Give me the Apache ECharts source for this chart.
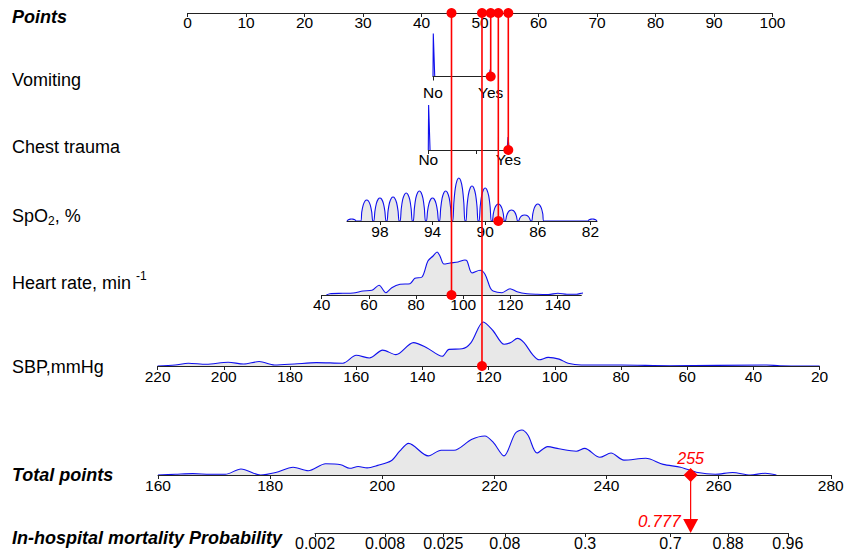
<!DOCTYPE html>
<html>
<head>
<meta charset="utf-8">
<script src="https://cdn.jsdelivr.net/npm/echarts@6/dist/echarts.min.js"></script>
<style>
html, body { margin: 0; padding: 0; background: #fff; }
#main { width: 844px; height: 552px; }
</style>
</head>
<body>
<div id="main"></div>
<script>
var FONT = '"Liberation Sans", Arial, sans-serif';

// ---- data ----
var rowTitles = ['Points', 'Vomiting', 'Chest trauma', 'SpO2, %', 'Heart rate, min -1', 'SBP,mmHg', 'Total points', 'In-hospital mortality Probability'];
var yesNo = ['No', 'Yes'];
var spo2Ticks = [98, 94, 90, 86, 82];
var hrTicks = [40, 60, 80, 100, 120, 140];
var sbpTicks = [220, 200, 180, 160, 140, 120, 100, 80, 60, 40, 20];
var totalTicks = [160, 180, 200, 220, 240, 260, 280];
var probTicks = [0.002, 0.008, 0.025, 0.08, 0.3, 0.7, 0.88, 0.96];

// densities: [value, height]
var vomitNo = [[0, 0], [0.005, 43], [0.03, 0]];
var vomitYes = [[0.975, 0], [0.99, 7], [1.01, 0]];
var chestNo = [[0, 0], [0.004, 45], [0.022, 0]];
var chestYes = [[0.985, 0], [0.997, 13], [1.012, 0]];
// SpO2 is recorded in whole percents: one arch per value
var spo2Values = [100.15, 99, 98, 97, 96, 95, 94, 93, 92, 91, 90, 89, 88, 87, 86, 81.85];
var spo2Peaks = [2, 21, 23, 24, 28, 30, 23, 30, 43, 35, 33, 17, 11, 6, 17, 2];
var archShape = [[0.46, 0], [0.38, 0.42], [0.27, 0.76], [0.13, 0.95], [0, 1], [-0.13, 0.95], [-0.27, 0.76], [-0.38, 0.42], [-0.46, 0]];
var hrDensity = [[42, 0], [43.5, 1.3], [49, 1.7], [53.3, 2], [57.5, 4], [61.3, 4.7], [64.3, 9.7], [67.2, 2.3], [69.7, 7.3], [73.2, 10.7], [77.4, 11.3], [79.5, 16.7], [82.5, 18], [85, 34], [87.2, 39], [88.9, 43], [90.1, 39], [91.8, 31], [94.4, 32], [97.8, 33], [100.7, 35], [101.6, 34], [103.7, 22], [107.1, 24.7], [109.2, 20.7], [111.4, 7.3], [112.6, 4], [116.4, 2.3], [119.8, 6.3], [122.8, 3.3], [127, 1.3], [131.3, 0.7], [136, 0.5], [140.1, 1.7], [143.9, 0.7], [148, 0.8], [150.7, 2], [152.8, 0]];
var sbpDensity = [[220, 0], [214.7, 1], [210.7, 2.8], [205.3, 1.7], [198.7, 3.8], [194, 2], [189.3, 4.5], [184.7, 1], [178.7, 2], [172, 3.4], [164, 2.8], [160, 10.7], [156, 8], [152, 15.9], [148, 11.4], [142.7, 23.4], [138.7, 18.3], [134, 9.7], [132, 16.6], [128, 17.2], [125.3, 23.4], [121.6, 44], [118.7, 35.5], [115.3, 21.7], [113.3, 23.4], [111.3, 27.6], [109.3, 23.4], [106.7, 11.4], [104.7, 6.2], [102, 8.6], [98.7, 6.9], [96, 2.8], [92, 1], [80, 1], [65.3, 0.3], [36, 1], [32, 0.3], [20, 0]];
var totalDensity = [[160, 0], [163.1, 0.7], [166.2, 1.4], [169.3, 0.7], [172, 0.7], [174.8, 6], [178.3, 0], [181, 2.5], [184.1, 7.8], [186.8, 4.3], [189.9, 11.3], [192.6, 10.3], [194.2, 6.7], [195.7, 8.5], [197.3, 7.1], [199.2, 9.6], [201.6, 14.2], [203.1, 23.8], [204.7, 31.6], [208.2, 19.1], [210.5, 24.8], [212.8, 24.8], [215.9, 35.5], [218.3, 39], [219.8, 32.6], [221.7, 19.1], [223.7, 41.5], [224.9, 45], [226, 39.7], [227.6, 22], [229.5, 28.4], [231.5, 26.2], [234.6, 23.8], [236.1, 26.6], [238.8, 17.7], [240.8, 22], [243.1, 14.9], [247, 16.7], [250.1, 10.6], [253.2, 7.8], [256.3, 2.5], [259.4, 0.7], [262.5, 2.5], [265.6, 0], [268.3, 1.8], [270.3, 0]];

// the patient drawn in red
var patientValues = [1, 1, 89, 95, 122]; // vomiting, chest trauma, SpO2, heart rate, SBP
var patientTotal = 255;
var patientProb = 0.777;

// ---- layout of the rows (pixels) ----
var rows = [
  { left: 187.5, width: 585, top: 3, height: 10 },
  { left: 433, width: 57.7, top: 26.5, height: 50 },
  { left: 428.3, width: 80, top: 100, height: 50 },
  { left: 347, width: 250, top: 171, height: 50 },
  { left: 321.7, width: 259.6, top: 245, height: 50 },
  { left: 157.6, width: 662, top: 316, height: 50 },
  { left: 158, width: 672.8, top: 425, height: 50 },
  { left: 315, width: 472.8, top: 483, height: 50 }
];
var titleY = [17, 80, 147, 216, 283, 367, 475, 538];

function logit(p) { return Math.log(p / (1 - p)); }

var spo2Density = [];
spo2Values.forEach(function (v, i) {
  var w = spo2Peaks[i] < 3 ? 0.75 : 1;
  archShape.forEach(function (s) {
    spo2Density.push([v + s[0] * w, s[1] * spo2Peaks[i]]);
  });
});

var myChart = echarts.init(document.getElementById('main'), null, { renderer: 'svg' });

function makeAxis(i, o) {
  return {
    gridIndex: i,
    type: 'value',
    position: 'bottom',
    min: o.min,
    max: o.max,
    inverse: !!o.inverse,
    interval: o.interval,
    z: 5,
    axisLine: { onZero: false, lineStyle: { color: '#222', width: 1 } },
    axisTick: { show: true, length: 4, customValues: o.ticks, lineStyle: { color: '#222', width: 1 } },
    splitLine: { show: false },
    axisLabel: {
      color: '#000', fontSize: o.fontSize || 15.5, fontFamily: FONT,
      margin: o.margin == null ? 2 : o.margin,
      customValues: o.labels, formatter: o.formatter,
      showMinLabel: true, showMaxLabel: true
    }
  };
}

function density(i, data, smooth) {
  return {
    type: 'line', xAxisIndex: i, yAxisIndex: i, data: data,
    symbol: 'none', smooth: smooth,
    clip: false, silent: true, z: 2,
    lineStyle: { color: '#1010ee', width: 1.1 },
    areaStyle: { color: '#e8e8e8', opacity: 1 }
  };
}

var option = {
  animation: false,
  textStyle: { fontFamily: FONT },
  grid: rows.map(function (r) {
    return { left: r.left, top: r.top, width: r.width, height: r.height, containLabel: false, outerBoundsMode: 'none' };
  }),
  xAxis: [
    makeAxis(0, { min: 0, max: 100, interval: 10, margin: 1 }),
    makeAxis(1, { min: 0, max: 1, ticks: [0, 1], labels: [0, 1], margin: 8,
      formatter: function (v) { return yesNo[Math.round(v)]; } }),
    makeAxis(2, { min: 0, max: 1, ticks: [0, 0.6, 1], labels: [0, 1], margin: 1,
      formatter: function (v) { return yesNo[Math.round(v)]; } }),
    makeAxis(3, { min: 81.5, max: 100.5, inverse: true, ticks: spo2Ticks, labels: spo2Ticks, margin: 2 }),
    makeAxis(4, { min: 40, max: 150, ticks: hrTicks, labels: hrTicks, margin: 1 }),
    makeAxis(5, { min: 20, max: 220, inverse: true, ticks: sbpTicks, labels: sbpTicks, margin: 2 }),
    makeAxis(6, { min: 160, max: 280, ticks: totalTicks, labels: totalTicks, margin: 2 }),
    makeAxis(7, { min: logit(probTicks[0]), max: logit(probTicks[probTicks.length - 1]),
      ticks: probTicks.map(logit), labels: probTicks.map(logit), margin: 2, fontSize: 16,
      formatter: function (v) {
        for (var k = 0; k < probTicks.length; k++) {
          if (Math.abs(logit(probTicks[k]) - v) < 1e-6) return String(probTicks[k]);
        }
        return '';
      } })
  ],
  yAxis: rows.map(function (r, i) {
    return { gridIndex: i, type: 'value', min: 0, max: r.height, show: false };
  }),
  series: [
    density(1, vomitNo, false),
    density(1, vomitYes, false),
    density(2, chestNo, false),
    density(2, chestYes, false),
    density(3, spo2Density, 0.3),
    density(4, hrDensity, 0.3),
    density(5, sbpDensity, 0.3),
    density(6, totalDensity, 0.3)
  ]
};

myChart.setOption(option);

// ---- titles and the red patient marks, placed through the axes ----
function xp(i, v) { return myChart.convertToPixel({ xAxisIndex: i }, v); }
function yp(i) { return myChart.convertToPixel({ yAxisIndex: i }, 0); }

var RED = '#ff0000';
var g = [];
rowTitles.forEach(function (t, i) {
  var bold = (i === 0 || i >= 6);
  var style = {
    fill: '#000', fontFamily: FONT, fontSize: 18,
    fontWeight: bold ? 'bold' : 'normal', fontStyle: bold ? 'italic' : 'normal',
    align: 'left', verticalAlign: 'middle', text: t
  };
  if (i === 3) {
    style.text = '{a|SpO}{s|2}{a|, %}';
    style.rich = {
      a: { fontSize: 18, fontFamily: FONT, lineHeight: 22, verticalAlign: 'middle' },
      s: { fontSize: 12, fontFamily: FONT, lineHeight: 22, verticalAlign: 'bottom' }
    };
  }
  if (i === 4) {
    style.text = '{a|Heart rate, min }{s|-1}';
    style.rich = {
      a: { fontSize: 18, fontFamily: FONT, lineHeight: 26, verticalAlign: 'middle' },
      s: { fontSize: 12, fontFamily: FONT, lineHeight: 26, verticalAlign: 'top' }
    };
  }
  g.push({ type: 'text', x: 12, y: titleY[i], style: style, z: 50 });
});

var yTop = yp(0);
patientValues.forEach(function (v, k) {
  var row = k + 1;
  var x = xp(row, v);
  var y = yp(row);
  g.push({ type: 'line', shape: { x1: x, y1: yTop, x2: x, y2: y }, style: { stroke: RED, lineWidth: 1.6 }, z: 100 });
  g.push({ type: 'circle', shape: { cx: x, cy: yTop, r: 5 }, style: { fill: RED }, z: 101 });
  g.push({ type: 'circle', shape: { cx: x, cy: y, r: 5 }, style: { fill: RED }, z: 101 });
});

var xT = xp(6, patientTotal), yT = yp(6);
var xP = xp(7, logit(patientProb)), yP = yp(7);
g.push({ type: 'line', shape: { x1: xT, y1: yT, x2: xT, y2: yP - 12 }, style: { stroke: RED, lineWidth: 1.2 }, z: 100 });
g.push({ type: 'polygon', shape: { points: [[xT, yT - 7], [xT + 7, yT], [xT, yT + 7], [xT - 7, yT]] }, style: { fill: RED }, z: 101 });
g.push({ type: 'text', x: xT, y: yT - 9, style: { text: String(patientTotal), fill: RED, fontFamily: FONT, fontSize: 16, fontStyle: 'italic', align: 'center', verticalAlign: 'bottom' }, z: 101 });
g.push({ type: 'polygon', shape: { points: [[xP - 7.5, yP - 14], [xP + 7.5, yP - 14], [xP, yP]] }, style: { fill: RED }, z: 101 });
g.push({ type: 'text', x: xP - 10, y: yP - 12, style: { text: String(patientProb), fill: RED, fontFamily: FONT, fontSize: 17, fontStyle: 'italic', align: 'right', verticalAlign: 'middle' }, z: 101 });

myChart.setOption({ graphic: g });
</script>
</body>
</html>
